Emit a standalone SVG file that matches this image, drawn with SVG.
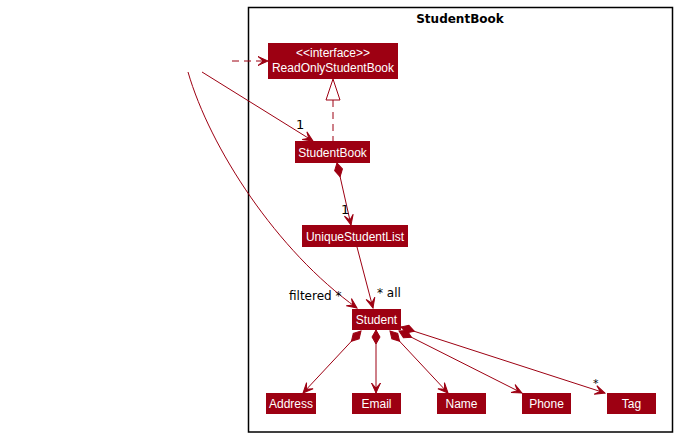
<svg xmlns="http://www.w3.org/2000/svg" width="677" height="437" viewBox="0 0 677 437">
<defs>
<style>
.box{fill:#9D0012;}
.bt{fill:#FFFFFF;font-family:"Liberation Sans",Arial,sans-serif;font-size:12px;text-anchor:middle;}
.ln{fill:none;stroke:#9D0012;stroke-width:1;}
.dash{stroke-dasharray:7,5;}
.lbl{fill:#000000;font-family:"DejaVu Sans",sans-serif;font-size:12px;}
</style>
<marker id="arr" markerUnits="userSpaceOnUse" viewBox="-11 -6 12 12" refX="0" refY="0" markerWidth="12" markerHeight="12" orient="auto">
<path d="M0,0 L-10,-4.5 L-5,0 L-10,4.5 Z" fill="#9D0012" stroke="#9D0012" stroke-width="1"/>
</marker>
<marker id="dia" markerUnits="userSpaceOnUse" viewBox="-1 -5 17 10" refX="0" refY="0" markerWidth="17" markerHeight="10" orient="auto">
<path d="M0,0 L7,-4 L14,0 L7,4 Z" fill="#9D0012" stroke="#9D0012" stroke-width="1"/>
</marker>
</defs>
<rect width="677" height="437" fill="#FFFFFF"/>

<g id="frame">
<rect x="248.5" y="7.5" width="424" height="424.5" fill="none" stroke="#000000" stroke-width="1.5"/>
<text x="460" y="23" style="font-family:'DejaVu Sans',sans-serif;font-size:12px;font-weight:bold;text-anchor:middle;">StudentBook</text>
</g>

<g id="connectors">
<path class="ln dash" d="M232,61 L268,61" marker-end="url(#arr)"/>
<path class="ln" d="M202,72 L313,141" marker-end="url(#arr)"/>
<path class="ln" d="M188,72 C210,148 277,251 357,308" marker-end="url(#arr)"/>
<path class="ln dash" d="M333,100 L333,141"/>
<polygon points="333,79 326,100 340,100" fill="#FFFFFF" stroke="#9D0012" stroke-width="1"/>
<path class="ln" d="M337,163 L351,225" marker-start="url(#dia)" marker-end="url(#arr)"/>
<path class="ln" d="M357,247 L373,308" marker-end="url(#arr)"/>
<path class="ln" d="M361,331 L303,393" marker-start="url(#dia)" marker-end="url(#arr)"/>
<path class="ln" d="M376,330 L376,393" marker-start="url(#dia)" marker-end="url(#arr)"/>
<path class="ln" d="M390,331 L448,393" marker-start="url(#dia)" marker-end="url(#arr)"/>
<path class="ln" d="M399,331 L522,393" marker-start="url(#dia)" marker-end="url(#arr)"/>
<path class="ln" d="M401,327 L605,393" marker-start="url(#dia)" marker-end="url(#arr)"/>
<text class="lbl" x="296" y="129" style="font-size:13px;">1</text>
<text class="lbl" x="341" y="214" style="font-size:13px;">1</text>
<text class="lbl" x="289" y="300">filtered *</text>
<text class="lbl" x="377" y="297">* all</text>
<text class="lbl" x="593" y="387" style="font-size:11px;">*</text>
</g>

<g id="ReadOnlyStudentBook">
<rect class="box" x="268" y="43" width="130" height="36"/>
<text class="bt" x="333" y="57">&lt;&lt;interface&gt;&gt;</text>
<text class="bt" x="333" y="72">ReadOnlyStudentBook</text>
</g>
<g id="StudentBook">
<rect class="box" x="295" y="141" width="75" height="22"/>
<text class="bt" x="332.5" y="156.5">StudentBook</text>
</g>
<g id="UniqueStudentList">
<rect class="box" x="302" y="225" width="106" height="22"/>
<text class="bt" x="355" y="240.5">UniqueStudentList</text>
</g>
<g id="Student">
<rect class="box" x="352" y="309" width="49" height="21"/>
<text class="bt" x="376.5" y="324">Student</text>
</g>
<g id="Address">
<rect class="box" x="266" y="393" width="50" height="21"/>
<text class="bt" x="291" y="408">Address</text>
</g>
<g id="Email">
<rect class="box" x="352" y="393" width="49" height="21"/>
<text class="bt" x="376.5" y="408">Email</text>
</g>
<g id="Name">
<rect class="box" x="437" y="393" width="49" height="21"/>
<text class="bt" x="461.5" y="408">Name</text>
</g>
<g id="Phone">
<rect class="box" x="522" y="393" width="49" height="21"/>
<text class="bt" x="546.5" y="408">Phone</text>
</g>
<g id="Tag">
<rect class="box" x="607" y="393" width="49" height="21"/>
<text class="bt" x="631.5" y="408">Tag</text>
</g>
</svg>
